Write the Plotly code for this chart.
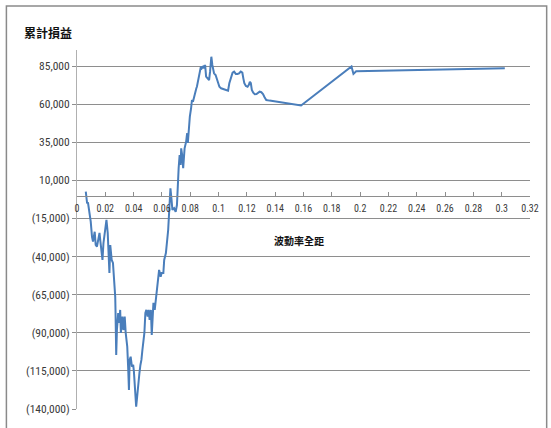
import plotly.graph_objects as go

# Cumulative P&L versus volatility range (sorted by range)
vol_range = [
    0.0062, 0.0071, 0.0078, 0.0090, 0.0097, 0.0106, 0.0113, 0.0125, 0.0132, 0.0141,
    0.0152, 0.0159, 0.0164, 0.0171, 0.0180, 0.0187, 0.0194, 0.0201, 0.0208, 0.0217,
    0.0224, 0.0229, 0.0235, 0.0245, 0.0254, 0.0263, 0.0270, 0.0272, 0.0277, 0.0282,
    0.0291, 0.0298, 0.0305, 0.0310, 0.0321, 0.0328, 0.0337, 0.0344, 0.0355, 0.0362,
    0.0367, 0.0372, 0.0379, 0.0388, 0.0397, 0.0402, 0.0409, 0.0418, 0.0425, 0.0432,
    0.0441, 0.0448, 0.0455, 0.0462, 0.0469, 0.0476, 0.0483, 0.0490, 0.0499, 0.0506,
    0.0513, 0.0522, 0.0528, 0.0535, 0.0540, 0.0549, 0.0556, 0.0563, 0.0570, 0.0580,
    0.0591, 0.0598, 0.0610, 0.0616, 0.0628, 0.0637, 0.0644, 0.0651, 0.0656, 0.0660,
    0.0667, 0.0674, 0.0686, 0.0697, 0.0706, 0.0713, 0.0718, 0.0725, 0.0732, 0.0736,
    0.0743, 0.0750, 0.0760, 0.0771, 0.0778, 0.0783, 0.0790, 0.0797, 0.0806, 0.0812,
    0.0819, 0.0829, 0.0836, 0.0843, 0.0847, 0.0857, 0.0866, 0.0875, 0.0882, 0.0891,
    0.0898, 0.0905, 0.0912, 0.0921, 0.0933, 0.0940, 0.0944, 0.0949, 0.0956, 0.0968,
    0.0979, 0.0990, 0.0997, 0.1006, 0.1018, 0.1037, 0.1055, 0.1067, 0.1076, 0.1087,
    0.1099, 0.1110, 0.1122, 0.1134, 0.1145, 0.1157, 0.1168, 0.1175, 0.1182, 0.1193,
    0.1205, 0.1214, 0.1221, 0.1228, 0.1235, 0.1245, 0.1256, 0.1268, 0.1279, 0.1290,
    0.1302, 0.1314, 0.1325, 0.1337, 0.1360, 0.1406, 0.1475, 0.1545, 0.1583, 0.1939,
    0.1953, 0.1972, 0.3022,
]
cum_pnl = [
    2600, -4700, -4900, -11400, -17100, -27000, -30200, -23700, -32400, -33500,
    -27800, -24500, -29100, -33500, -42200, -31100, -24500, -20400, -16000, -24500,
    -35700, -50800, -32400, -42200, -44200, -55400, -66300, -75000, -104600, -88200,
    -77000, -83600, -75000, -90100, -79400, -88200, -79400, -90100, -99100, -114400,
    -127500, -107800, -105700, -112200, -111100, -115500, -127500, -138500, -131900, -122900,
    -116400, -111100, -107800, -101300, -94700, -90100, -77000, -75000, -79400, -75000,
    -81600, -75000, -91400, -75000, -70400, -75000, -68500, -66300, -58700, -48800,
    -53200, -50800, -50800, -42200, -37700, -31100, -22600, -10600, 1700, 4800,
    -1800, -9400, -8300, -10600, -6200, 15700, 17900, 26600, 20100, 31000,
    26600, 17900, 31000, 35400, 40900, 34500, 44100, 51800, 57300, 62700,
    61600, 66000, 68200, 70400, 71400, 76900, 80200, 84600, 83500, 84600,
    83500, 85700, 78000, 76900, 75800, 81300, 90100, 91100, 85700, 80200,
    79100, 76500, 73700, 71400, 70400, 69700, 69300, 68800, 73700, 78000,
    80600, 81300, 79800, 79800, 80200, 81300, 80600, 76900, 73700, 71900,
    71400, 72600, 74700, 73700, 69300, 67500, 66500, 66600, 67500, 68200,
    67800, 66600, 64500, 62700, 62300, 61600, 60500, 59600, 59100, 84700,
    79800, 81500, 83500,
]

x_ticks = [i * 0.02 for i in range(17)]
x_ticktext = [f"{round(v, 2):g}" for v in x_ticks]
y_ticks = list(range(-140000, 85001, 25000))
y_ticktext = [f"({abs(v):,})" if v < 0 else f"{v:,}" for v in y_ticks]

x_range = [0, 0.32]
y_range = [-140000, 95500]
# the category axis crosses the value axis at zero
x_axis_pos = (0 - y_range[0]) / (y_range[1] - y_range[0])

num_font = "Roboto Condensed, Liberation Sans, Arial, sans-serif"
cjk_font = "Noto Sans CJK TC, Noto Sans CJK SC, sans-serif"
grid_col = "#8e8e8e"
text_col = "#3a3a3a"

fig = go.Figure()
fig.add_trace(go.Scatter(
    x=vol_range, y=cum_pnl, mode="lines",
    line=dict(color="#4a7ebb", width=2),
    showlegend=False, hoverinfo="skip",
))

fig.update_layout(
    width=551, height=428,
    margin=dict(l=77, r=12, t=50, b=19),
    paper_bgcolor="white", plot_bgcolor="white",
    xaxis=dict(
        range=x_range, tickmode="array", tickvals=x_ticks, ticktext=x_ticktext,
        anchor="free", position=x_axis_pos,
        showline=True, linecolor=grid_col, linewidth=1,
        showgrid=False, zeroline=False,
        ticks="inside", ticklen=4, tickcolor=grid_col,
        ticklabelstandoff=3,
        tickfont=dict(family=num_font, size=10, color=text_col),
    ),
    yaxis=dict(
        range=y_range, tickmode="array", tickvals=y_ticks, ticktext=y_ticktext,
        showline=True, linecolor="#b0b0b0", linewidth=1,
        showgrid=True, gridcolor=grid_col, gridwidth=1, zeroline=False,
        ticks="outside", ticklen=4, tickcolor=grid_col,
        tickfont=dict(family=num_font, size=11.5, color=text_col),
    ),
    annotations=[
        dict(text="<b>累計損益</b>", xref="paper", yref="paper",
             x=(47 - 77) / 462, y=(409 - 32) / 359,
             xanchor="center", yanchor="middle", showarrow=False,
             font=dict(family=cjk_font, size=12, color="#111111")),
        dict(text="<b>波動率全距</b>", xref="paper", yref="paper",
             x=(303 - 77) / 462, y=(409 - 240) / 359,
             xanchor="center", yanchor="middle", showarrow=False,
             font=dict(family=cjk_font, size=10, color="#111111")),
    ],
    shapes=[
        dict(type="rect", xref="paper", yref="paper",
             x0=(5 - 77) / 462, x1=(556 - 77) / 462,
             y0=(409 - 440) / 359, y1=(409 - 6) / 359,
             line=dict(color="#8a8a8a", width=1.5), layer="below"),
    ],
)

fig.write_html("out.html")
